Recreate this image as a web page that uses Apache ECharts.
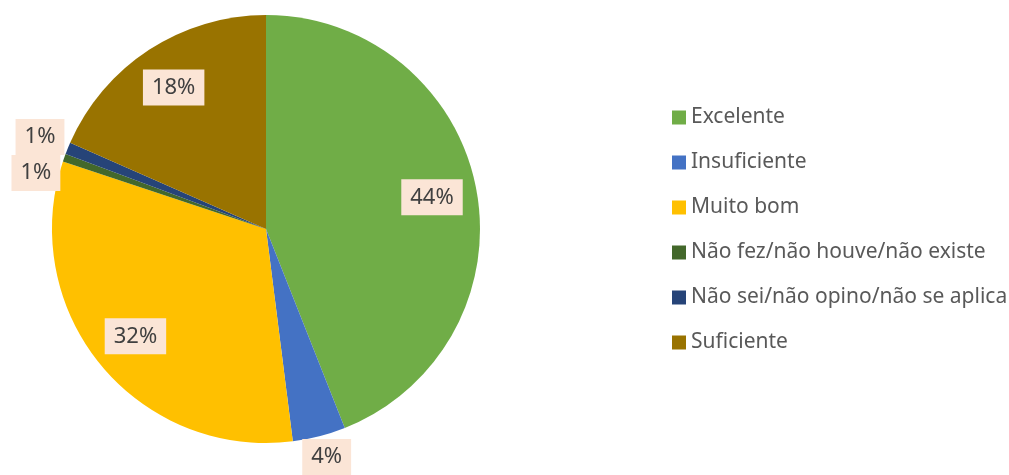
<!DOCTYPE html>
<html>
<head>
<meta charset="utf-8">
<script src="https://cdn.jsdelivr.net/npm/echarts@6/dist/echarts.min.js"></script>
<style>
  html, body { margin: 0; padding: 0; background: #fff; }
  #chart { width: 1009px; height: 475px; }
</style>
</head>
<body>
<div id="chart"></div>
<script>
  // categorias e valores (percentagens)
  var categorias = ['Excelente', 'Insuficiente', 'Muito bom', 'Não fez/não houve/não existe', 'Não sei/não opino/não se aplica', 'Suficiente'];
  var valores = [44, 4, 32.1, 0.6, 0.9, 18.4];
  var cores = ['#70AD47', '#4472C4', '#FFC000', '#43682B', '#264478', '#997300'];
  // quais rótulos ficam fora do círculo
  var rotuloFora = [false, true, false, true, true, false];

  var centro = [266, 229];
  var raio = 214;

  var fonte = '"Noto Sans", sans-serif';
  var estiloRotulo = {
    color: '#404040',
    fontSize: 22,
    fontFamily: fonte,
    backgroundColor: '#FBE5D6',
    padding: [8, 9, 6, 9]
  };

  function fmt(p) {
    return Math.round(p.percent) + '%';
  }

  var dadosPizza = categorias.map(function (c, i) {
    return { name: c, value: valores[i], itemStyle: { color: cores[i] } };
  });

  // séries transparentes só para posicionar os rótulos
  function dadosRotulo(fora) {
    return categorias.map(function (c, i) {
      return {
        name: c,
        value: valores[i],
        itemStyle: { color: 'rgba(0,0,0,0)' },
        label: { show: rotuloFora[i] === fora }
      };
    });
  }

  var myChart = echarts.init(document.getElementById('chart'));
  var option = {
    animation: false,
    legend: {
      orient: 'vertical',
      left: 667,
      top: 102,
      icon: 'rect',
      itemWidth: 14,
      itemHeight: 14,
      itemGap: 24,
      selectedMode: false,
      textStyle: {
        color: '#595959',
        fontSize: 21,
        fontFamily: fonte,
        lineHeight: 21
      },
      data: categorias
    },
    series: [
      {
        name: 'pizza',
        type: 'pie',
        center: centro,
        radius: [0, raio],
        startAngle: 90,
        clockwise: true,
        label: { show: false },
        labelLine: { show: false },
        itemStyle: { borderWidth: 0 },
        emphasis: { disabled: true },
        data: dadosPizza
      },
      {
        name: 'rotulosDentro',
        type: 'pie',
        center: centro,
        radius: [118, raio],
        startAngle: 90,
        silent: true,
        legendHoverLink: false,
        label: Object.assign({ position: 'inside', formatter: fmt }, estiloRotulo),
        labelLine: { show: false },
        emphasis: { disabled: true },
        data: dadosRotulo(false)
      },
      {
        name: 'rotulosFora',
        type: 'pie',
        center: centro,
        radius: [raio, 268],
        startAngle: 90,
        silent: true,
        legendHoverLink: false,
        label: Object.assign({ position: 'inside', formatter: fmt }, estiloRotulo),
        labelLine: { show: false },
        labelLayout: { moveOverlap: 'shiftY' },
        emphasis: { disabled: true },
        data: dadosRotulo(true)
      }
    ]
  };
  myChart.setOption(option);
</script>
</body>
</html>
